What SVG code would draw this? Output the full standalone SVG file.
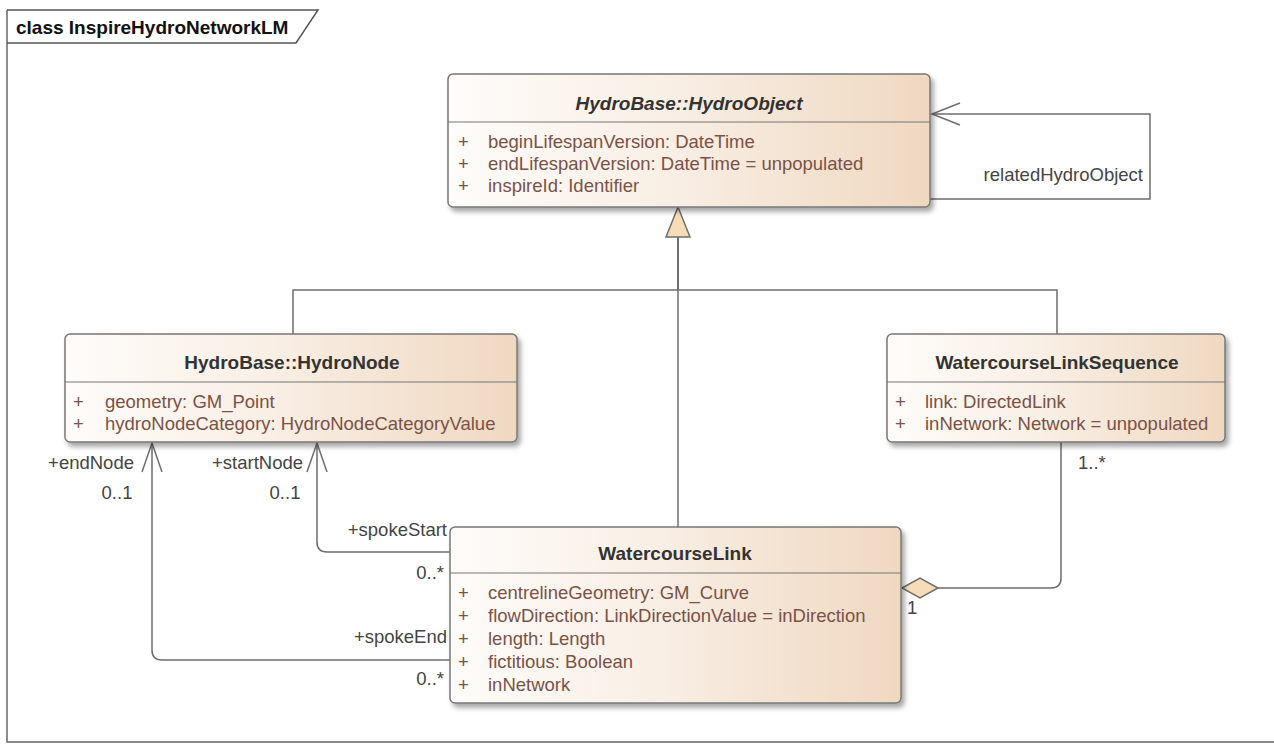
<svg xmlns="http://www.w3.org/2000/svg" width="1274" height="745" viewBox="0 0 1274 745">
<defs>
<linearGradient id="g" x1="0" y1="0" x2="1" y2="0">
<stop offset="0" stop-color="#fefcfa"/>
<stop offset="0.45" stop-color="#f9efe5"/>
<stop offset="1" stop-color="#efd8c1"/>
</linearGradient>
<filter id="sh" x="-5%" y="-5%" width="115%" height="120%">
<feDropShadow dx="3" dy="4" stdDeviation="2.5" flood-color="#000" flood-opacity="0.35"/>
</filter>
<style>
.box{fill:url(#g);stroke:#777;stroke-width:1.5;filter:url(#sh)}
.sep{stroke:#777;stroke-width:1.2}
.t{font-family:"Liberation Sans",Arial,sans-serif;font-size:19px;font-weight:bold;fill:#333;text-anchor:middle}
.a{font-family:"Liberation Sans",Arial,sans-serif;font-size:18.5px;fill:#7a5246}
.l{font-family:"Liberation Sans",Arial,sans-serif;font-size:18.5px;fill:#444}
.c{fill:none;stroke:#6e6e6e;stroke-width:1.5}
.h{fill:#f7dcb9;stroke:#6e6e6e;stroke-width:1.5}
</style>
</defs>
<rect width="1274" height="745" fill="#fff"/>
<g id="frame">
<path d="M7,10 V742 H1274" fill="none" stroke="#666" stroke-width="1.5"/>
<path d="M7,10 H318 L296,43 H7" fill="none" stroke="#555" stroke-width="1.5"/>
<text x="16" y="34" font-family="Liberation Sans,Arial,sans-serif" font-size="19" font-weight="bold" fill="#111">class InspireHydroNetworkLM</text>
</g>
<g id="connectors">
<path class="c" d="M293,334 V290 H678 V237"/>
<path class="c" d="M1057,334 V290 H678 V237"/>
<path class="c" d="M678,527 V237"/>
<path class="h" d="M678,207 L666,237 H690 Z"/>
<path class="c" d="M930,199 H1150 V114 H932"/>
<path class="c" d="M960,103 L932,114 L960,125"/>
<path class="c" d="M450,552 H327 Q317,552 317,542 V443"/>
<path class="c" d="M307,472 L317,443 L327,472"/>
<path class="c" d="M450,660 H162 Q152,660 152,650 V443"/>
<path class="c" d="M142,472 L152,443 L162,472"/>
<path class="c" d="M937,588 H1051 Q1061,588 1061,578 V442"/>
<path class="h" d="M902,588 L920,578 L938,588 L920,598 Z"/>
<text class="l" x="1143" y="181" text-anchor="end">relatedHydroObject</text>
<text class="l" x="134" y="469" text-anchor="end">+endNode</text>
<text class="l" x="117" y="499" text-anchor="middle">0..1</text>
<text class="l" x="303" y="469" text-anchor="end">+startNode</text>
<text class="l" x="285" y="499" text-anchor="middle">0..1</text>
<text class="l" x="447" y="536" text-anchor="end">+spokeStart</text>
<text class="l" x="444" y="579" text-anchor="end">0..*</text>
<text class="l" x="447" y="643" text-anchor="end">+spokeEnd</text>
<text class="l" x="444" y="685" text-anchor="end">0..*</text>
<text class="l" x="1078" y="469">1..*</text>
<text class="l" x="907" y="614">1</text>
</g>
<g id="HydroObject">
<rect class="box" x="448" y="74" width="482" height="133" rx="5"/>
<line class="sep" x1="448" y1="122" x2="930" y2="122"/>
<text class="t" x="689" y="109.5" font-style="italic">HydroBase::HydroObject</text>
<text class="a" x="458" y="148">+</text><text class="a" x="488" y="148">beginLifespanVersion: DateTime</text>
<text class="a" x="458" y="170">+</text><text class="a" x="488" y="170">endLifespanVersion: DateTime = unpopulated</text>
<text class="a" x="458" y="192">+</text><text class="a" x="488" y="192">inspireId: Identifier</text>
</g>
<g id="HydroNode">
<rect class="box" x="65" y="334" width="452" height="108" rx="5"/>
<line class="sep" x1="65" y1="382" x2="517" y2="382"/>
<text class="t" x="292" y="368.5">HydroBase::HydroNode</text>
<text class="a" x="73" y="408">+</text><text class="a" x="105" y="408">geometry: GM_Point</text>
<text class="a" x="73" y="430">+</text><text class="a" x="105" y="430">hydroNodeCategory: HydroNodeCategoryValue</text>
</g>
<g id="WatercourseLinkSequence">
<rect class="box" x="887" y="334" width="338" height="108" rx="5"/>
<line class="sep" x1="887" y1="382" x2="1225" y2="382"/>
<text class="t" x="1057" y="368.5">WatercourseLinkSequence</text>
<text class="a" x="895" y="408">+</text><text class="a" x="925" y="408">link: DirectedLink</text>
<text class="a" x="895" y="430">+</text><text class="a" x="925" y="430">inNetwork: Network = unpopulated</text>
</g>
<g id="WatercourseLink">
<rect class="box" x="450" y="527" width="451" height="176" rx="5"/>
<line class="sep" x1="450" y1="573" x2="901" y2="573"/>
<text class="t" x="675" y="559.5">WatercourseLink</text>
<text class="a" x="458" y="599">+</text><text class="a" x="488" y="599">centrelineGeometry: GM_Curve</text>
<text class="a" x="458" y="622">+</text><text class="a" x="488" y="622">flowDirection: LinkDirectionValue = inDirection</text>
<text class="a" x="458" y="645">+</text><text class="a" x="488" y="645">length: Length</text>
<text class="a" x="458" y="668">+</text><text class="a" x="488" y="668">fictitious: Boolean</text>
<text class="a" x="458" y="691">+</text><text class="a" x="488" y="691">inNetwork</text>
</g>
</svg>
